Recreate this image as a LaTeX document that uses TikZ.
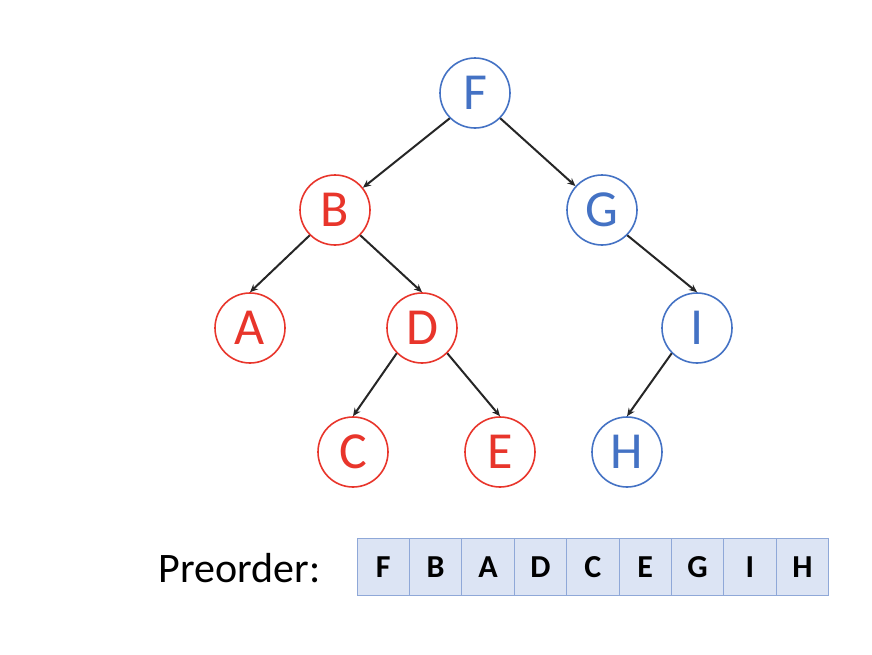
\documentclass[tikz,border=0pt]{standalone}
\usepackage{fontspec}
\setmainfont{Carlito}
\usetikzlibrary{arrows.meta}
\definecolor{tblue}{HTML}{4472C4}
\definecolor{tred}{HTML}{E8352B}
\definecolor{cellfill}{HTML}{DCE4F4}
\definecolor{cellline}{HTML}{8FA8D8}
\begin{document}
\begin{tikzpicture}[x=1pt,y=-1pt,
  tnode/.style={circle,draw,line width=1.6pt,fill=white,minimum size=70pt,inner sep=0pt,font=\fontsize{52}{52}\selectfont},
  bnode/.style={tnode,draw=tblue,text=tblue},
  rnode/.style={tnode,draw=tred,text=tred},
  edge/.style={-{Stealth[length=8pt,width=7pt]},line width=2pt,black!85},
  cell/.style={draw=cellline,fill=cellfill,line width=1pt,minimum width=52.4pt,minimum height=57pt,inner sep=0pt,font=\fontsize{32}{32}\selectfont\bfseries}]
\useasboundingbox (0,0) rectangle (872,654);
\node[bnode] (F) at (475,93) {F};
\node[rnode] (B) at (335,210) {B};
\node[bnode] (G) at (602,210) {G};
\node[rnode] (A) at (250,328) {A};
\node[rnode] (D) at (422,328) {D};
\node[bnode] (I) at (697,328) {I};
\node[rnode] (C) at (353,452) {C};
\node[rnode] (E) at (500,452) {E};
\node[bnode] (H) at (627,452) {H};
\draw[edge] (F.south west) -- (B);
\draw[edge] (F.south east) -- (G);
\draw[edge] (B.south west) -- (A.north);
\draw[edge] (B.south east) -- (D.north);
\draw[edge] (G.south east) -- (I.north);
\draw[edge] (D.south west) -- (C.north);
\draw[edge] (D.south east) -- (E.north);
\draw[edge] (I.south west) -- (H.north);
\node[anchor=east,font=\fontsize{42}{42}\selectfont] (lbl) at (324,568) {Preorder:};
\foreach \l [count=\i] in {F,B,A,D,C,E,G,I,H} {
  \node[cell] (c\i) at ({357+52.4*(\i-0.5)},567) {\l};
}
\end{tikzpicture}
\end{document}
